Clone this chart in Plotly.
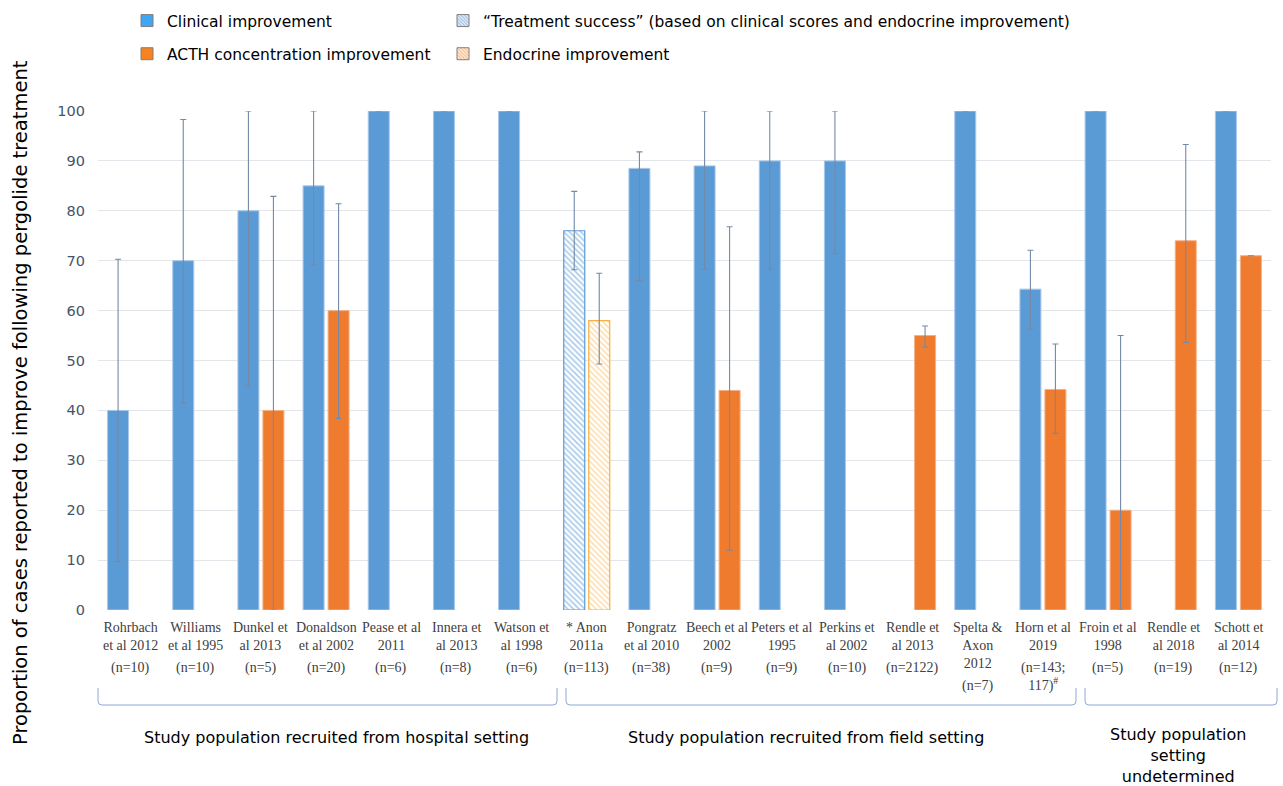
import plotly.graph_objects as go

# ---- data -------------------------------------------------------------
studies = [
    "Rohrbach 2012", "Williams 1995", "Dunkel 2013", "Donaldson 2002",
    "Pease 2011", "Innera 2013", "Watson 1998", "Anon 2011a",
    "Pongratz 2010", "Beech 2002", "Peters 1995", "Perkins 2002",
    "Rendle 2013", "Spelta 2012", "Horn 2019", "Froin 1998",
    "Rendle 2018", "Schott 2014",
]
study_labels = [
    "Rohrbach<br>et al 2012", "Williams<br>et al 1995", "Dunkel et<br>al 2013",
    "Donaldson<br>et al 2002", "Pease et al<br>2011", "Innera et<br>al 2013",
    "Watson et<br>al 1998", "* Anon<br>2011a", "Pongratz<br>et al 2010",
    "Beech et al<br>2002", "Peters et al<br>1995", "Perkins et<br>al 2002",
    "Rendle et<br>al 2013", "Spelta &<br>Axon<br>2012", "Horn et al<br>2019",
    "Froin et al<br>1998", "Rendle et<br>al 2018", "Schott et<br>al 2014",
]
sample_sizes = [
    "(n=10)", "(n=10)", "(n=5)", "(n=20)", "(n=6)", "(n=8)", "(n=6)",
    "(n=113)", "(n=38)", "(n=9)", "(n=9)", "(n=10)", "(n=2122)", "(n=7)",
    "(n=143;<br>117)<sup>#</sup>", "(n=5)", "(n=19)", "(n=12)",
]

# clinical improvement (%) with lower / upper interval bounds
clinical = [40, 70, 80, 85, 100, 100, 100, None, 88.5, 89, 90, 90,
            None, 100, 64.3, 100, None, 100]
clinical_low = [9.7, 41.5, 44.9, 69.2, 100, 100, 100, None, 66.0, 68.3,
                68.3, 71.4, None, 100, 56.3, 100, None, 100]
clinical_high = [70.3, 98.3, 100, 100, 100, 100, 100, None, 91.8, 100,
                 100, 100, None, 100, 72.1, 100, None, 100]

# ACTH concentration improvement (%)
acth = [None, None, 40, 60, None, None, None, None, None, 44, None, None,
        55, None, 44.2, 20, 74, 71]
acth_low = [None, None, 0, 38.4, None, None, None, None, None, 12.0, None,
            None, 52.7, None, 35.4, 0, 53.6, None]
acth_high = [None, None, 82.9, 81.4, None, None, None, None, None, 76.8,
             None, None, 56.9, None, 53.3, 55.0, 93.3, None]

# Anon 2011a: treatment success and endocrine improvement
success_study = ["Anon 2011a"]
success = [76]
success_low = [68.2]
success_high = [83.9]
endocrine = [58]
endocrine_low = [49.3]
endocrine_high = [67.5]

groups = [
    "Study population recruited from hospital setting",
    "Study population recruited from field setting",
    "Study population<br>setting<br>undetermined",
]

y_ticks = list(range(0, 101, 10))

# ---- helpers ----------------------------------------------------------
W, H = 1283, 786
L, R, T, B = 98, 1271, 111, 610   # plot area in pixels


def px_x(p):
    return (p - L) / (R - L)


def px_y(p):
    return (B - p) / (B - T)


def err_plus(vals, highs):
    return [None if v is None or h is None else h - v for v, h in zip(vals, highs)]


def err_minus(vals, lows):
    return [None if v is None or lo is None else v - lo for v, lo in zip(vals, lows)]


SANS = "'DejaVu Sans', Verdana, sans-serif"
SERIF = "'Liberation Serif', 'Times New Roman', serif"
ERR = dict(type="data", symmetric=False, color="#7489a8", thickness=1.1, width=3)

BLUE = "#5a9bd6"
ORANGE = "#ef7b2f"

fig = go.Figure()

fig.add_trace(go.Bar(
    x=studies, y=clinical, offsetgroup="a", showlegend=False,
    marker=dict(color=BLUE, line=dict(color="#a7c7ea", width=1)),
    error_y=dict(ERR, array=err_plus(clinical, clinical_high),
                 arrayminus=err_minus(clinical, clinical_low)),
))
fig.add_trace(go.Bar(
    x=studies, y=acth, offsetgroup="b", showlegend=False,
    marker=dict(color=ORANGE, line=dict(color="#f6b085", width=1)),
    error_y=dict(ERR, array=err_plus(acth, acth_high),
                 arrayminus=err_minus(acth, acth_low)),
))
fig.add_trace(go.Bar(
    x=success_study, y=success, offsetgroup="a", showlegend=False,
    marker=dict(color="white", line=dict(color="#5b9bd5", width=1.2),
                pattern=dict(shape="\\", fgcolor="#5b9bd5", bgcolor="white",
                             size=4, solidity=0.45)),
    error_y=dict(ERR, array=err_plus(success, success_high),
                 arrayminus=err_minus(success, success_low)),
))
fig.add_trace(go.Bar(
    x=success_study, y=endocrine, offsetgroup="b", showlegend=False,
    marker=dict(color="white", line=dict(color="#f7b042", width=1.2),
                pattern=dict(shape="\\", fgcolor="#f9c26a", bgcolor="white",
                             size=4, solidity=0.45)),
    error_y=dict(ERR, array=err_plus(endocrine, endocrine_high),
                 arrayminus=err_minus(endocrine, endocrine_low)),
))

# legend entries
legend_items = [
    ("Clinical improvement", "legend", dict(color="#3fa6f3")),
    ("ACTH concentration improvement", "legend", dict(color="#f7821e")),
    ("\u201cTreatment success\u201d (based on clinical scores and endocrine improvement)",
     "legend2", dict(color="#eef4fb", pattern=dict(shape="\\", fgcolor="#4f86cc",
                                                    bgcolor="#eef4fb", size=3, solidity=0.5))),
    ("Endocrine improvement", "legend2", dict(color="#fff3e8", pattern=dict(
        shape="\\", fgcolor="#ee8228", bgcolor="#fff3e8", size=3, solidity=0.5))),
]
for i, (name, leg, mk) in enumerate(legend_items):
    mk = dict(mk, line=dict(color="#7f7f7f", width=1))
    fig.add_trace(go.Bar(x=[None], y=[None], name=name, legend=leg,
                         legendgroup=f"g{i}", marker=mk))

annotations = []
# study labels under each category
for s, lab, n in zip(studies, study_labels, sample_sizes):
    nlines = lab.count("<br>") + 1
    annotations.append(dict(
        x=s, xref="x", y=px_y(618), yref="paper", yanchor="top",
        xanchor="center", text=lab, showarrow=False, align="center",
        font=dict(family=SERIF, size=14, color="#404040"),
    ))
    annotations.append(dict(
        x=s, xref="x", y=px_y(618 + nlines * 18.2 + 3.5), yref="paper",
        yanchor="top", xanchor="center", text=n, showarrow=False, align="center",
        font=dict(family=SERIF, size=14, color="#404040"),
    ))

# study-setting group labels
group_pos = [(336, 737), (806, 737), (1178, 734)]
for g, (gx, gy) in zip(groups, group_pos):
    annotations.append(dict(
        x=px_x(gx), xref="paper", y=px_y(gy - 11), yref="paper",
        xanchor="center", yanchor="top", text=g, showarrow=False, align="center",
        font=dict(family=SANS, size=16, color="#000000"),
    ))

# y-axis title
annotations.append(dict(
    x=px_x(21), xref="paper", y=px_y(403), yref="paper",
    xanchor="center", yanchor="middle",
    text="Proportion of cases reported to improve following pergolide treatment",
    textangle=-90, showarrow=False,
    font=dict(family=SANS, size=19.5, color="#000000"),
))

# group brackets
shapes = []
for x0, x1 in [(98, 557), (566, 1076), (1085, 1277)]:
    ytop, ybot, r = 688, 705, 4
    X0, X1 = px_x(x0), px_x(x1)
    rx = r / (R - L)
    Yt, Yb = px_y(ytop), px_y(ybot)
    ry = r / (B - T)
    path = (f"M {X0},{Yt} L {X0},{Yb + ry} Q {X0},{Yb} {X0 + rx},{Yb} "
            f"L {X1 - rx},{Yb} Q {X1},{Yb} {X1},{Yb + ry} L {X1},{Yt}")
    shapes.append(dict(type="path", path=path, xref="paper", yref="paper",
                       line=dict(color="#8eaad6", width=1)))

fig.update_layout(
    width=W, height=H,
    margin=dict(l=L, r=W - R, t=T, b=H - B, autoexpand=False),
    paper_bgcolor="white", plot_bgcolor="white",
    barmode="group", bargap=0.233, bargroupgap=0.16,
    xaxis=dict(categoryorder="array", categoryarray=studies,
               showticklabels=False, showgrid=False, zeroline=False,
               showline=False, ticks="", automargin=False),
    yaxis=dict(range=[0, 100], tickvals=y_ticks, showgrid=True,
               gridcolor="#e2e5ea", gridwidth=1, zeroline=False,
               showline=False, ticks="", ticklabelstandoff=12, automargin=False,
               tickfont=dict(family=SANS, size=14.5, color="#45546b")),
    legend=dict(xref="container", yref="container", x=127 / W, y=1 - 4 / H,
                xanchor="left", yanchor="top", bgcolor="rgba(0,0,0,0)",
                tracegroupgap=10, font=dict(family=SANS, size=15.5, color="#000")),
    legend2=dict(xref="container", yref="container", x=443 / W, y=1 - 4 / H,
                 xanchor="left", yanchor="top", bgcolor="rgba(0,0,0,0)",
                 tracegroupgap=10, font=dict(family=SANS, size=15.5, color="#000")),
    annotations=annotations,
    shapes=shapes,
)

fig.write_html("out.html")
